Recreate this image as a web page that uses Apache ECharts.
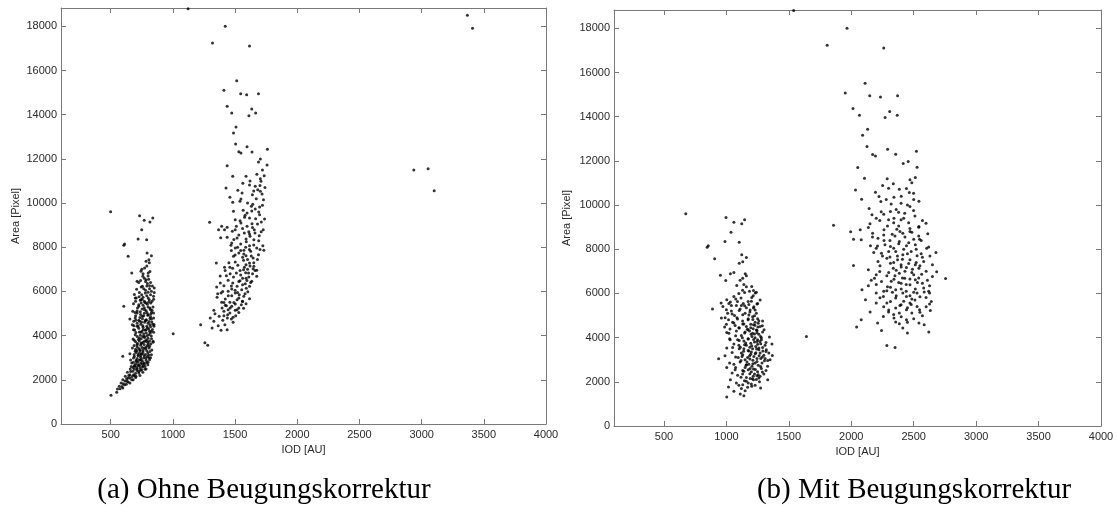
<!DOCTYPE html>
<html>
<head>
<meta charset="utf-8">
<script src="https://cdn.jsdelivr.net/npm/echarts@6/dist/echarts.min.js"></script>
<style>
html,body{margin:0;padding:0;background:#fff;}
#chart{width:1117px;height:509px;}
</style>
</head>
<body>
<div id="chart"></div>
<script>
// ---- tick labels / axis ranges ----
const xTicks = [500, 1000, 1500, 2000, 2500, 3000, 3500, 4000];
const yTicks = [0, 2000, 4000, 6000, 8000, 10000, 12000, 14000, 16000, 18000];
const xName = 'IOD [AU]';
const yName = 'Area [Pixel]';
const captionA = '(a) Ohne Beugungskorrektur';
const captionB = '(b) Mit Beugungskorrektur';

// ---- (a) Ohne Beugungskorrektur : [IOD, Area] ----
const leftOutliers = [[1122,18800],[1421,18000],[1318,17245],[1616,17110],[3368,18498],[3409,17910],[2937,11497],[3052,11557],[3101,10562],[1002,4089],[499,9611],[1223,4496],[1257,3681],[1280,3561],[1295,9128]];

const leftUpperCluster = [[1513,15540],[1410,15103],[1545,14952],[1593,14907],[1688,14952],[1436,14379],[1473,14077],[1634,14258],[1665,14077],[1611,13956],[1507,13443],[1487,13172],[1504,12674],[1596,12553],[1760,12432],[1530,12327],[1547,12266],[1636,12312],[1703,11995],[1688,11859],[1757,11723],[1436,11693],[1481,11210],[1588,11210],[1734,11240],[1703,11105],[1708,10984],[1562,10894],[1616,10818],[1662,10758],[1427,10682],[1682,10607],[1522,10577],[1703,10531],[1556,10456],[1717,10411],[1639,10380],[1458,10260],[1547,10184],[1728,10154],[1539,10079],[1642,9943],[1481,10034],[1631,9852],[1697,9822],[1487,9626],[1565,9671],[1662,9732],[1634,9641],[1596,9551],[1697,9475],[1576,9355],[1616,9324],[1665,9294],[1737,9279],[1711,9143],[1501,9249],[1547,9098],[1636,9068],[1596,8947],[1392,8947],[1367,8796],[1415,8796],[1436,8902],[1478,8721],[1501,8796],[1654,8796],[1726,8796],[1574,8645],[1616,8600],[1694,8525],[1384,8434],[1436,8449],[1516,8419],[1588,8374],[1651,8344],[1473,8193],[1545,8148],[1467,8087],[1616,8072],[1501,7966],[1674,7966],[1723,8072],[1571,7861],[1625,7816],[1731,7861],[1530,7740],[1487,7589],[1588,7619],[1688,7665],[1645,7514],[1568,7408],[1349,7288],[1501,7333],[1616,7288],[1522,7182],[1588,7212],[1651,7137],[1415,7091],[1458,7091],[1568,6986],[1645,7031],[1674,6956],[1510,6835],[1608,6835],[1545,6744],[1430,6714],[1487,6654],[1674,6684],[1588,6593],[1444,6503],[1539,6488],[1634,6458],[1481,6382],[1582,6352],[1381,6382],[1410,6262],[1516,6231],[1616,6231],[1352,6201],[1473,6110],[1553,6080],[1444,6005],[1501,5930],[1602,5990],[1387,5930],[1533,5854],[1473,5809],[1570,5779],[1355,5733],[1421,5658],[1516,5628],[1616,5673],[1559,5552],[1458,5507],[1392,5507],[1501,5432],[1588,5447],[1421,5371],[1473,5326],[1530,5251],[1568,5236],[1444,5175],[1329,5145],[1501,5145],[1410,5100],[1458,5024],[1516,5175],[1338,4994],[1300,4798],[1372,4873],[1410,4904],[1438,4798],[1484,4828],[1329,4647],[1401,4692],[1484,4602],[1418,4496],[1364,4451],[1315,4345],[1387,4240],[1436,4270]];

const leftUpperClusterDense = [[1560,6600],[1585,6850],[1600,7000],[1620,7150],[1575,7100],[1540,6950],[1595,6500],[1560,6300],[1530,6450],[1610,6650],[1640,6800],[1650,7300],[1630,7600],[1600,7450],[1570,7700],[1615,7900],[1650,8100],[1590,8250],[1620,8500],[1660,8650],[1640,8900],[1680,9050],[1560,8850],[1530,8550],[1520,8000],[1500,7650],[1480,7050],[1460,6800],[1470,6250],[1500,6050],[1530,5700],[1550,5400],[1580,5900],[1560,5550],[1520,5950],[1490,5500],[1460,5250],[1430,5350],[1445,5800],[1410,5500],[1395,5250],[1440,4950],[1470,4750],[1505,4900],[1530,5050],[1590,6150],[1625,6400],[1660,6950],[1680,7450],[1700,7900],[1690,8300],[1710,8700],[1690,9600],[1720,9900],[1670,10200],[1650,10550],[1600,10000],[1580,9450],[1540,9200],[1510,8950],[1490,8350],[1470,7850],[1450,7300],[1420,6950],[1380,6700],[1400,6000],[1360,5900],[1560,7550],[1545,7850],[1585,8000],[1610,8700],[1700,10800],[1720,11500],[1740,10700],[1620,11000],[1675,11300]];

const leftLowerCluster = [[502,1298],[548,1433],[554,1584],[568,1705],[597,1630],[583,1856],[611,1780],[631,1931],[597,2007],[654,1856],[640,2082],[669,2007],[617,2157],[683,2233],[654,2233],[634,2339],[703,2157],[726,2308],[677,2384],[657,2490],[712,2490],[740,2429],[692,2610],[755,2580],[784,2490],[726,2686],[669,2761],[706,2837],[769,2761],[798,2686],[740,2912],[683,2987],[597,3063],[784,2987],[812,2912],[720,3093],[755,3168],[654,3183],[697,3289],[798,3214],[827,3138],[735,3365],[674,3440],[769,3440],[812,3516],[712,3591],[749,3666],[784,3742],[689,3787],[841,3742],[729,3893],[769,3968],[807,4044],[697,4044],[743,4149],[827,4195],[784,4270],[683,4270],[712,4421],[758,4451],[815,4496],[847,4421],[674,4496],[732,4647],[784,4692],[827,4753],[697,4798],[654,4753],[755,4873],[801,4949],[844,5024],[712,5024],[677,5100],[772,5175],[815,5251],[605,5326],[726,5326],[683,5447],[784,5477],[832,5552],[743,5628],[697,5703],[801,5703],[844,5779],[749,5854],[778,5930],[827,6005],[850,6156],[812,6262],[755,6231],[712,6458],[784,6533],[669,6835],[743,6910],[772,7061],[801,6835],[758,6684],[784,7363],[807,7438],[792,7740],[827,7619],[640,7589],[720,8374],[789,8344],[749,8796],[732,9430],[769,9219],[815,9143],[838,9324],[605,8087],[611,8148]];

const leftLowerClusterDense = [[700,2300],[712,2420],[725,2380],[690,2480],[735,2530],[748,2450],[760,2620],[718,2650],[700,2720],[742,2760],[770,2700],[728,2880],[755,2840],[785,2880],[712,2960],[740,3020],[765,2990],[795,3060],[690,3050],[720,3130],[748,3180],[778,3150],[805,3120],[705,3240],[735,3300],[760,3260],[790,3320],[815,3280],[700,3380],[725,3420],[752,3460],[780,3410],[808,3440],[740,3560],[768,3600],[795,3550],[822,3620],[715,3640],[700,3720],[730,3760],[760,3700],[788,3800],[812,3760],[745,3860],[772,3920],[800,3880],[828,3860],[712,3960],[738,4020],[765,4080],[792,4000],[818,4120],[702,4140],[750,4200],[778,4240],[805,4300],[835,4280],[725,4330],[760,4380],[790,4420],[820,4400],[712,4560],[742,4520],[772,4600],[800,4560],[830,4620],[726,4700],[755,4760],[786,4720],[815,4780],[845,4800],[700,4900],[740,4960],[770,5010],[798,4920],[828,5060],[712,5120],[752,5200],[785,5130],[818,5180],[840,5300],[725,5400],[760,5380],[795,5420],[822,5480],[700,5560],[738,5600],[770,5560],[810,5620],[845,5650],[760,5740],[790,5800],[820,5850],[690,5860],[850,5950],[780,6050],[812,6120],[835,6250],[795,6360],[770,6600],[800,6700],[750,7000],[790,7150],[810,7300],[680,2560],[660,2380],[645,2200],[628,2050],[615,1950],[672,2150],[690,2200],[655,2080],[600,1820],[625,1800],[590,1700],[640,1900],[575,1600],[680,2000],[700,2100],[735,2200],[758,2340],[775,2480],[665,2600],[682,2800],[660,2900],[800,2800],[820,3000],[830,3350],[840,3700],[845,4150],[848,4500],[688,3550],[680,3850],[692,4250],[685,4650],[695,5050],[705,5700],[730,5950],[745,6200],[725,6400],[780,6450],[805,6550],[760,6800],[815,6900],
[708,2560],[732,2640],[752,2720],[716,2790],[745,2920],[770,3080],[730,3200],[758,3340],[785,3480],[712,3500],[744,3640],[772,3760],[798,3700],[722,3820],[758,3960],[786,4120],[730,4160],[762,4280],[795,4340],[720,4440],[748,4620],[778,4680],[808,4640],[735,4820],[765,4900],[792,5040],[822,4980],[738,5080],[770,5260],[800,5300],[745,5480],[775,5500],[805,5520],[728,5760],[800,5960],[765,6120],[790,6250],[820,6400],[690,2650],[705,2880],[775,2600],[790,2780],[808,3000],[740,3100],[688,3150],[710,3310],[802,3620],[826,3980],[812,4200],[838,4520],[820,4860],[832,5150],[686,4450],[702,4700],[715,5250],[752,5650],[708,6100],[740,6500]];

// ---- (b) Mit Beugungskorrektur : [IOD, Area] ----
const rightOutliers = [[1539,18810],[1966,18000],[1807,17231],[2260,17110],[675,9603],[1641,4055],[1858,9090],[889,5291],[846,8095],[855,8156],[906,7568],[938,3045],[2755,6678],[2678,7854],[2684,6980]];

const rightUpperCluster = [[2111,15512],[1952,15075],[2148,14954],[2234,14894],[2371,14954],[2014,14367],[2066,14065],[2308,14231],[2271,13960],[2368,14065],[2131,13432],[2091,13161],[2126,12648],[2291,12527],[2171,12286],[2194,12226],[2356,12301],[2522,12437],[2416,11879],[2456,11970],[2527,11713],[2052,11698],[2106,11216],[2288,11186],[2251,10884],[2337,10960],[2485,11005],[2513,11246],[2470,11141],[2034,10688],[2299,10764],[2385,10718],[2442,10748],[2194,10583],[2083,10266],[2222,10387],[2342,10357],[2465,10568],[2499,10538],[2237,10160],[2542,10175],[2399,10085],[2143,9844],[2470,9934],[2314,9708],[2379,9678],[2166,9558],[2260,9588],[2428,9633],[2499,9753],[2342,9407],[2570,9301],[2228,9301],[2299,9331],[2399,9331],[2599,9181],[2137,8985],[1995,8789],[2072,8879],[2262,8879],[2365,8909],[2470,8939],[2542,9030],[2171,8728],[2328,8683],[2413,8728],[2485,8774],[2613,8698],[2018,8457],[2080,8427],[2214,8502],[2262,8397],[2547,8457],[2385,8352],[2154,8156],[2200,8050],[2314,8126],[2442,8156],[2513,8201],[2604,8050],[2242,7824],[2356,7899],[2413,7749],[2527,7703],[2570,7643],[2285,7598],[2371,7522],[2470,7522],[2214,7447],[2314,7372],[2399,7296],[2513,7296],[2018,7266],[2337,7145],[2442,7176],[2542,7145],[2137,7070],[2228,6995],[2385,6919],[2485,6950],[2564,6874],[2650,6769],[2285,6799],[2342,6648],[2428,6693],[2513,6618],[2186,6693],[2242,6543],[2399,6467],[2470,6392],[2570,6467],[2627,6346],[2137,6346],[2314,6286],[2356,6166],[2513,6196],[2527,6015],[2200,6015],[2285,6120],[2086,6166],[2413,6015],[2584,6060],[2627,6015],[2257,5864],[2442,5864],[2356,5789],[2485,5744],[2599,5819],[2114,5713],[2314,5638],[2641,5638],[2399,5487],[2285,5563],[2470,5563],[2627,5517],[2200,5563],[2527,5412],[2356,5336],[2442,5261],[2547,5261],[2633,5231],[2299,5156],[2151,5156],[2385,5110],[2485,5110],[2257,4960],[2342,4884],[2570,4990],[2080,4809],[2442,4809],[2211,4658],[2356,4703],[2385,4628],[2542,4658],[2584,4583],[2043,4477],[2413,4432],[2242,4327],[2450,4206],[2621,4251],[2285,3648],[2351,3558]];

const rightUpperClusterDense = [[2380,6500],[2410,6700],[2440,6400],[2470,6650],[2500,6850],[2530,6500],[2350,6800],[2320,6550],[2300,6950],[2360,7050],[2400,7200],[2430,7000],[2460,7350],[2490,7100],[2520,7400],[2550,7250],[2340,7400],[2310,7650],[2370,7700],[2410,7550],[2450,7800],[2480,7900],[2520,8000],[2560,7800],[2300,7900],[2340,8050],[2380,8250],[2420,8000],[2460,8300],[2500,8450],[2540,8600],[2270,8200],[2310,8400],[2350,8600],[2390,8800],[2430,8550],[2470,8800],[2260,8650],[2290,9050],[2340,9200],[2380,9050],[2420,9400],[2460,9200],[2510,9500],[2400,6200],[2440,6100],[2470,5900],[2500,6050],[2360,5900],[2330,6050],[2290,6300],[2260,6100],[2420,5650],[2390,5450],[2450,5350],[2480,5500],[2510,5700],[2550,5850],[2580,6250],[2610,6600],[2600,7000],[2580,7450],[2230,7250],[2200,6850],[2180,7850],[2250,7700],[2210,8150],[2170,8550],[2230,5800],[2260,5400],[2300,5250],[2340,5050],[2400,4950],[2450,4700],[2500,4850],[2550,5150],[2600,5400],[2620,6100],[2540,6700],[2200,6400],[2160,6600],[2320,10050],[2360,9800],[2450,10000],[2400,10400],[2280,10250],[2240,9700],[2200,9400],[2150,9150],[2500,10250],[2540,9000],[2560,8400],[2650,7300],[2620,8100],[2630,7700]];

const rightLowerCluster = [[997,9437],[1060,9226],[1146,9331],[1123,9150],[1037,8774],[989,8352],[1103,8321],[1123,7749],[1160,7628],[1103,7372],[1131,7432],[952,6829],[1032,6889],[1060,6950],[1131,6693],[1151,6889],[995,6588],[1083,6362],[1203,6316],[1217,6135],[1146,6045],[1231,6015],[1060,5864],[1003,5713],[1117,5789],[1203,5819],[958,5563],[1032,5608],[1089,5638],[1174,5638],[1245,5517],[972,5412],[1146,5442],[1000,5261],[1217,5336],[1103,5231],[1188,5156],[1046,5065],[1131,5035],[1225,4990],[960,4884],[1017,4809],[1089,4839],[1174,4809],[1260,4764],[1060,4658],[1131,4613],[1217,4583],[1288,4538],[986,4477],[1029,4387],[1103,4432],[1174,4357],[1245,4327],[1302,4357],[1003,4236],[1146,4206],[1225,4161],[1074,4085],[1274,4055],[1345,4025],[1026,3950],[1174,3935],[1103,3874],[1245,3829],[1317,3784],[1060,3708],[1146,3678],[1203,3633],[1365,3708],[1003,3528],[1103,3497],[1260,3528],[1174,3422],[1317,3377],[1046,3332],[1231,3271],[1131,3226],[1368,3196],[989,3181],[1074,3120],[1288,3120],[1188,3030],[1117,2970],[1245,2925],[1331,2970],[1026,2849],[1160,2774],[1274,2698],[1074,2653],[1003,2653],[1217,2578],[1131,2517],[1317,2517],[1046,2397],[1188,2367],[1245,2276],[1117,2201],[1217,2095],[1032,2095],[1160,2020],[1260,2171],[1080,1945],[1131,1869],[1017,1764],[1203,1794],[1274,1719],[1060,1568],[1111,1447],[1140,1372],[1003,1312],[1331,2095]];

const rightLowerClusterDense = [[1150,3000],[1170,3100],[1195,3250],[1220,3150],[1245,3050],[1270,3300],[1300,3200],[1180,3400],[1210,3500],[1235,3600],[1260,3450],[1290,3550],[1320,3450],[1160,3650],[1195,3750],[1225,3800],[1250,3700],[1280,3900],[1310,3650],[1140,3850],[1175,3950],[1205,4050],[1230,4000],[1260,4150],[1290,4250],[1120,4100],[1150,4250],[1185,4300],[1215,4400],[1240,4350],[1270,4500],[1160,4500],[1195,4600],[1230,4700],[1255,4650],[1130,4750],[1175,4850],[1210,4950],[1240,5100],[1150,5100],[1190,5250],[1220,5400],[1180,5500],[1200,5650],[1160,5350],[1230,5250],[1110,5300],[1120,3300],[1140,3500],[1100,3650],[1090,3900],[1080,4300],[1070,4550],[1050,4700],[1065,5000],[1040,5450],[1020,5550],[1075,5750],[1100,6000],[1130,6150],[1160,6300],[1180,2800],[1205,2700],[1230,2850],[1255,2750],[1285,2850],[1310,3050],[1340,3300],[1150,2650],[1175,2550],[1200,2450],[1225,2350],[1250,2450],[1280,2600],[1300,2350],[1130,2350],[1160,2200],[1190,2150],[1215,2250],[1240,2100],[1265,2000],[1145,2050],[1175,1950],[1200,1900],[1230,1850],[1120,1700],[1150,1600],[1170,1750],[1100,1850],[1090,2300],[1070,2550],[1060,2800],[1095,3100],[1110,2900],[1125,3150],[1050,3550],[1030,3900],[1020,4200],[1000,4600],[990,4900],[1010,5100],[1040,5200],[1080,5450],[1135,5550],[1250,5550],[1270,5700],[1215,5900],[1240,6050],[1185,6100],[1140,6400],[1110,6600],[1160,6800],[1190,2600],[1270,2250],[1330,2700],[1350,3000],[1200,3350],[1250,3900],[1210,4200],[1280,4000],[1195,4450],[1250,4850],[1290,4750],
[1165,2900],[1212,2980],[1262,3180],[1188,3560],[1242,3480],[1275,3720],[1155,3760],[1218,3920],[1268,3820],[1198,4150],[1245,4220],[1168,4380],[1228,4560],[1212,4820],[1180,5020],[1232,2560],[1288,2440],[1208,2140],[1255,2320],[1140,2480],[1292,3400],[1305,2950],[1138,3380],[1112,3560],[1128,4000],[1100,4450],[1140,4620],[1085,4900],[1120,5450],[1252,4480],[1186,3180],[1236,3310],[1275,3050],[1158,2750],[1212,2820]];

const X_MIN = 100, X_MAX = 4000, Y_MIN = 0, Y_MAX = 18830;

const leftData = [].concat(leftOutliers, leftUpperCluster, leftUpperClusterDense, leftLowerCluster, leftLowerClusterDense);
const rightData = [].concat(rightOutliers, rightUpperCluster, rightUpperClusterDense, rightLowerCluster, rightLowerClusterDense);

const AX = '#7a7a7a';
const LBL = '#2a2a2a';
const FONT = '"Liberation Sans", Arial, sans-serif';
const plain = v => String(v);

function xAx(grid, pos, withLabel, nameGap) {
  const a = {
    type: 'value', gridIndex: grid, position: pos, min: X_MIN, max: X_MAX,
    splitLine: {show: false},
    axisLine: {show: true, onZero: false, lineStyle: {color: AX, width: 1}},
    axisTick: {show: true, inside: true, length: 5, customValues: xTicks, lineStyle: {color: AX}},
    axisLabel: {show: withLabel, customValues: xTicks, formatter: plain, margin: 5, color: LBL, fontSize: 11, fontFamily: FONT}
  };
  if (withLabel) {
    a.name = xName; a.nameLocation = 'middle'; a.nameGap = nameGap;
    a.nameTextStyle = {color: LBL, fontSize: 11, fontFamily: FONT};
  }
  return a;
}
function yAx(grid, pos, withLabel, nameGap) {
  const a = {
    type: 'value', gridIndex: grid, position: pos, min: Y_MIN, max: Y_MAX,
    splitLine: {show: false},
    axisLine: {show: true, onZero: false, lineStyle: {color: AX, width: 1}},
    axisTick: {show: true, inside: true, length: 5, customValues: yTicks, lineStyle: {color: AX}},
    axisLabel: {show: withLabel, customValues: yTicks, formatter: plain, margin: 4, color: LBL, fontSize: 11, fontFamily: FONT}
  };
  if (withLabel) {
    a.name = yName; a.nameLocation = 'middle'; a.nameGap = nameGap; a.nameRotate = 90;
    a.nameTextStyle = {color: LBL, fontSize: 11, fontFamily: FONT};
  }
  return a;
}

const chart = echarts.init(document.getElementById('chart'), null, {renderer: 'canvas'});
chart.setOption({
  animation: false,
  backgroundColor: '#ffffff',
  grid: [
    {left: 61, top: 8, width: 485, height: 416},
    {left: 614, top: 10, width: 487, height: 416}
  ],
  xAxis: [xAx(0, 'bottom', true, 17), xAx(0, 'top', false), xAx(1, 'bottom', true, 17), xAx(1, 'top', false)],
  yAxis: [yAx(0, 'left', true, 40), yAx(0, 'right', false), yAx(1, 'left', true, 42), yAx(1, 'right', false)],
  series: [
    {type: 'scatter', xAxisIndex: 0, yAxisIndex: 0, data: leftData, symbol: 'circle', symbolSize: 3,
     itemStyle: {color: '#000'}, silent: true},
    {type: 'scatter', xAxisIndex: 2, yAxisIndex: 2, data: rightData, symbol: 'circle', symbolSize: 3,
     itemStyle: {color: '#000'}, silent: true}
  ],
  graphic: [
    {type: 'text', x: 264, y: 490, silent: true,
     style: {text: captionA, fill: '#000', font: '29px "Liberation Serif", "Times New Roman", serif', textAlign: 'center', textVerticalAlign: 'middle'}},
    {type: 'text', x: 914, y: 490, silent: true,
     style: {text: captionB, fill: '#000', font: '29px "Liberation Serif", "Times New Roman", serif', textAlign: 'center', textVerticalAlign: 'middle'}}
  ]
});
</script>
</body>
</html>
